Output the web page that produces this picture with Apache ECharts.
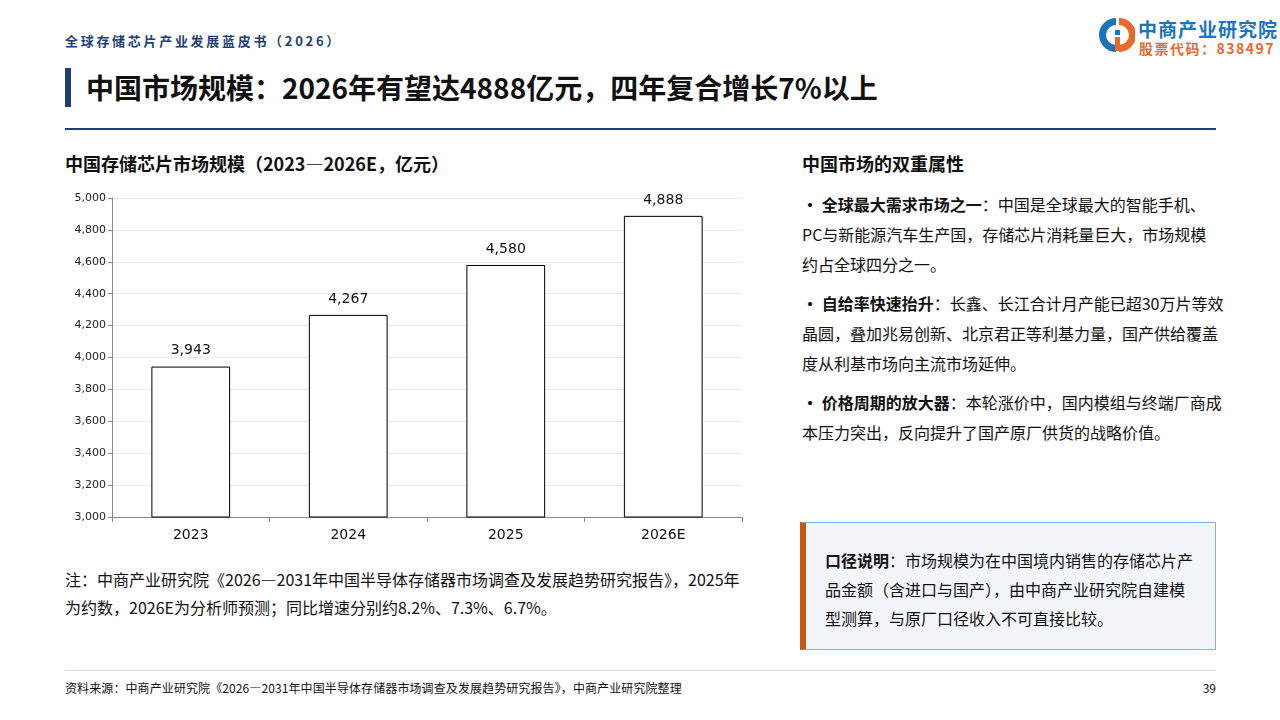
<!DOCTYPE html>
<html lang="zh">
<head>
<meta charset="UTF-8">
<title>中国市场规模</title>
<script src="https://cdn.jsdelivr.net/npm/echarts@6/dist/echarts.min.js"></script>
<style>
  body { margin: 0; background: #fff; font-family: "Noto Sans CJK SC", sans-serif; color: #111; }
  #page { position: relative; width: 1280px; height: 720px; overflow: hidden; }
  .abs { position: absolute; }
  #book { left: 65px; top: 31px; font-size: 13px; font-weight: bold; color: #1f3f73; letter-spacing: 2.7px; }
  #bar { left: 65px; top: 68px; width: 6px; height: 39px; background: #1f3f73; }
  #title { left: 86px; top: 67px; font-size: 28px; font-weight: bold; line-height: 40px; }
  #rule { left: 65px; top: 128px; width: 1151px; height: 2px; background: #1f3f73; }
  #ctitle { left: 65px; top: 150px; font-size: 18px; font-weight: bold; }
  #main { left: 0; top: 180px; width: 760px; height: 380px; }
  #note { left: 65px; top: 565px; width: 700px; font-size: 16px; line-height: 28px; white-space: nowrap; }
  #rhead { left: 802px; top: 150px; font-size: 18px; font-weight: bold; }
  #rtext { left: 802px; top: 189px; width: 430px; font-size: 16px; line-height: 30px; white-space: nowrap; }
  #rtext p { margin: 0 0 9px 0; }
  #box { left: 800px; top: 522px; width: 409px; height: 126px; background: #f2f5fa; border: 1px solid #8eb0d4; border-left: 6px solid #c55a11; }
  #box div { margin: 23px 0 0 19px; font-size: 16px; line-height: 29px; white-space: nowrap; }
  #frule { left: 65px; top: 670px; width: 1151px; height: 1px; background: #d8dde6; }
  #foot { left: 65px; top: 679px; font-size: 12px; letter-spacing: 0.1px; }
  #pno { left: 1190px; top: 679px; width: 26px; text-align: right; font-size: 12px; }
  #logo1 { left: 1138px; top: 15px; font-size: 19px; font-weight: bold; color: #1b75bb; letter-spacing: 1px; }
  #logo2 { left: 1139px; top: 38px; font-size: 14px; font-weight: bold; color: #e8692c; letter-spacing: 1.5px; }
</style>
</head>
<body>
<div id="page">
  <div class="abs" id="book">全球存储芯片产业发展蓝皮书（2026）</div>
  <svg class="abs" style="left:1097px;top:16px" width="38" height="38" viewBox="0 0 38 38">
    <path d="M19 2 A17 17 0 0 0 19 36 L19 29 A10 10 0 0 1 19 9 Z" fill="#1b75bb"/>
    <path d="M22 2 A17 17 0 0 1 22 36 L22 29 A10 10 0 0 0 22 9 Z" fill="#e8692c"/>
    <rect x="18" y="14" width="5" height="5" fill="#1b75bb"/>
    <rect x="18" y="21" width="5" height="14" fill="#e8692c"/>
  </svg>
  <div class="abs" id="logo1">中商产业研究院</div>
  <div class="abs" id="logo2">股票代码：838497</div>
  <div class="abs" id="bar"></div>
  <div class="abs" id="title">中国市场规模：2026年有望达4888亿元，四年复合增长7%以上</div>
  <div class="abs" id="rule"></div>
  <div class="abs" id="ctitle">中国存储芯片市场规模（2023—2026E，亿元）</div>
  <div class="abs" id="main"></div>
  <div class="abs" id="note">注：中商产业研究院《2026—2031年中国半导体存储器市场调查及发展趋势研究报告》，2025年<br>为约数，2026E为分析师预测；同比增速分别约8.2%、7.3%、6.7%。</div>
  <div class="abs" id="rhead">中国市场的双重属性</div>
  <div class="abs" id="rtext">
    <p><b>· 全球最大需求市场之一</b>：中国是全球最大的智能手机、<br>PC与新能源汽车生产国，存储芯片消耗量巨大，市场规模<br>约占全球四分之一。</p>
    <p><b>· 自给率快速抬升</b>：长鑫、长江合计月产能已超30万片等效<br>晶圆，叠加兆易创新、北京君正等利基力量，国产供给覆盖<br>度从利基市场向主流市场延伸。</p>
    <p><b>· 价格周期的放大器</b>：本轮涨价中，国内模组与终端厂商成<br>本压力突出，反向提升了国产原厂供货的战略价值。</p>
  </div>
  <div class="abs" id="box"><div><b>口径说明</b>：市场规模为在中国境内销售的存储芯片产<br>品金额（含进口与国产），由中商产业研究院自建模<br>型测算，与原厂口径收入不可直接比较。</div></div>
  <div class="abs" id="frule"></div>
  <div class="abs" id="foot">资料来源：中商产业研究院《2026—2031年中国半导体存储器市场调查及发展趋势研究报告》，中商产业研究院整理</div>
  <div class="abs" id="pno">39</div>
</div>
<script>
var years = ['2023', '2024', '2025', '2026E'];
var marketSize = [3943, 4267, 4580, 4888];

var myChart = echarts.init(document.getElementById('main'));
myChart.setOption({
  animation: false,
  grid: { left: 112, right: 18, top: 18, bottom: 43 },
  xAxis: {
    type: 'category',
    data: years,
    axisLine: { lineStyle: { color: '#888' } },
    axisTick: { show: true, lineStyle: { color: '#888' } },
    axisLabel: { color: '#111', fontSize: 14, fontFamily: 'DejaVu Sans', margin: 11 }
  },
  yAxis: {
    type: 'value',
    min: 3000,
    max: 5000,
    interval: 200,
    axisLine: { show: true, lineStyle: { color: '#888' } },
    axisTick: { show: true, length: 4, lineStyle: { color: '#888' } },
    axisLabel: {
      color: '#222', fontSize: 11, fontFamily: 'DejaVu Sans', margin: 6,
      formatter: function (v) { return v.toLocaleString('en-US'); }
    },
    splitLine: { lineStyle: { color: '#e3ebf3' } }
  },
  series: [{
    type: 'bar',
    data: marketSize,
    barWidth: '50%',
    itemStyle: { color: '#fff', borderColor: '#000', borderWidth: 1 },
    label: {
      show: true, position: 'top', distance: 9, color: '#111', fontSize: 14, fontFamily: 'DejaVu Sans',
      formatter: function (p) { return p.value.toLocaleString('en-US'); }
    }
  }]
});
</script>
</body>
</html>
